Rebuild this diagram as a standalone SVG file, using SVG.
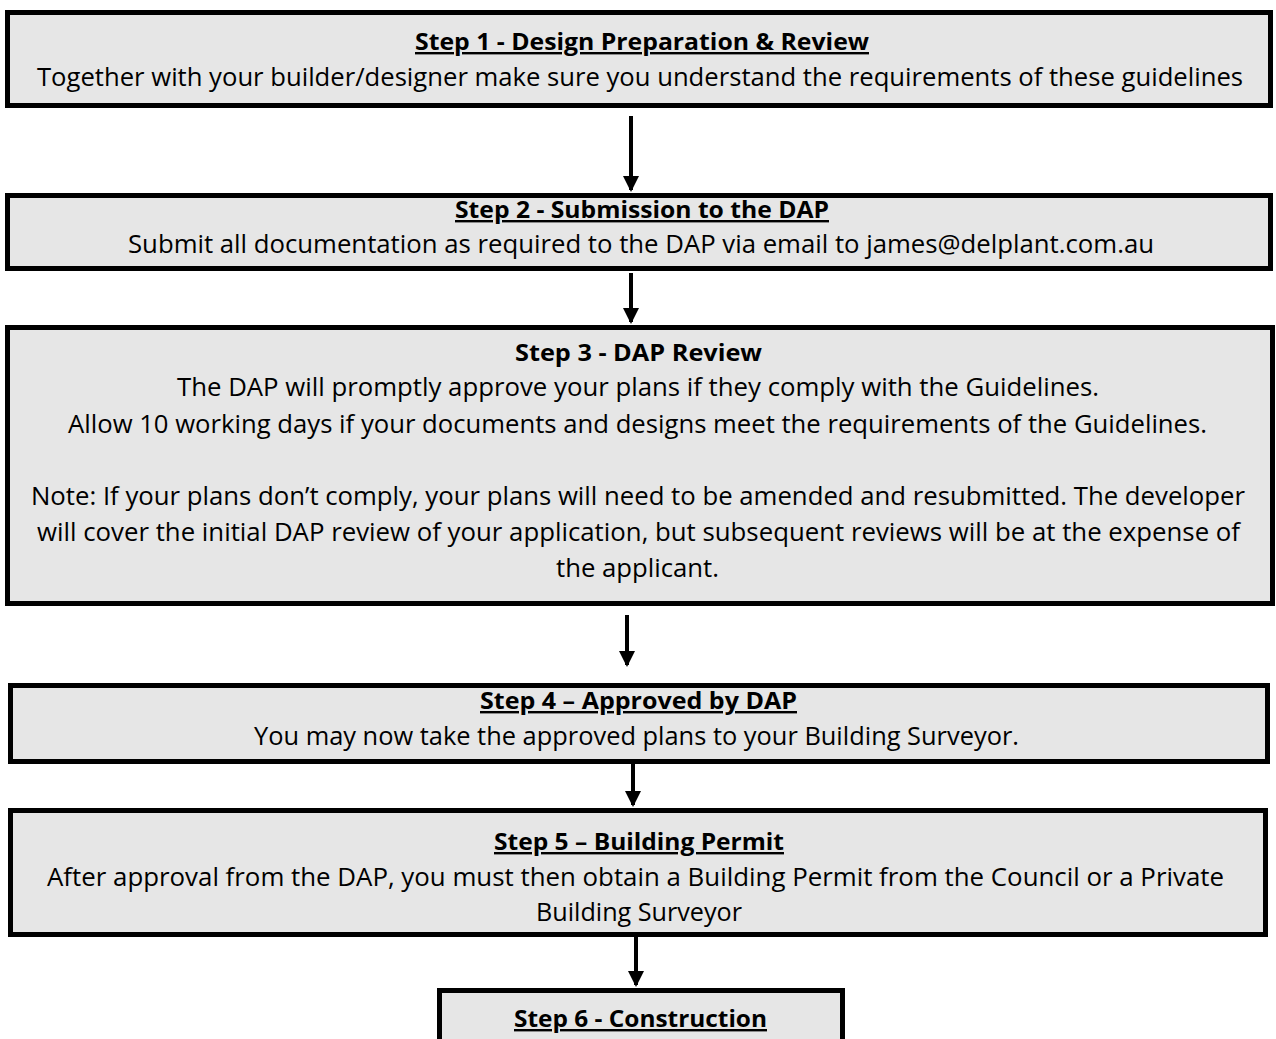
<svg xmlns="http://www.w3.org/2000/svg" width="1276" height="1039" viewBox="0 0 1276 1039">
<style>
.box{fill:#e6e6e6;stroke:#000;stroke-width:5}
.t{font-family:"Open Sans","Liberation Sans",sans-serif;font-size:25px;fill:#000;text-anchor:middle}
.b{font-weight:bold;font-size:24px}
.u{text-decoration:underline}
.arr{stroke:#000;stroke-width:4;fill:none}
</style>
<defs>
<marker id="ah" markerWidth="4" markerHeight="4" refX="3.5" refY="2" orient="auto" markerUnits="strokeWidth" viewBox="0 0 4 4">
<path d="M0,0 L4,2 L0,4 Z" fill="#000"/>
</marker>
</defs>
<rect width="1276" height="1039" fill="#fff"/>
<g id="connectors">
<line class="arr" x1="631" y1="116" x2="631" y2="190" marker-end="url(#ah)"/>
<line class="arr" x1="631" y1="273" x2="631" y2="322" marker-end="url(#ah)"/>
<line class="arr" x1="627" y1="615" x2="627" y2="665" marker-end="url(#ah)"/>
<line class="arr" x1="633" y1="762" x2="633" y2="805" marker-end="url(#ah)"/>
<line class="arr" x1="636" y1="937" x2="636" y2="985" marker-end="url(#ah)"/>
</g>
<g id="step1">
<rect class="box" x="7.5" y="12.5" width="1263" height="93"/>
<text class="t b u" x="642" y="50" textLength="454" lengthAdjust="spacingAndGlyphs">Step 1 - Design Preparation &amp; Review</text>
<text class="t" x="640" y="86" textLength="1206" lengthAdjust="spacingAndGlyphs">Together with your builder/designer make sure you understand the requirements of these guidelines</text>
</g>
<g id="step2">
<rect class="box" x="7.5" y="195.5" width="1263" height="73"/>
<text class="t b u" x="642" y="218" textLength="374" lengthAdjust="spacingAndGlyphs">Step 2 - Submission to the DAP</text>
<text class="t" x="641" y="253" textLength="1026" lengthAdjust="spacingAndGlyphs">Submit all documentation as required to the DAP via email to james@delplant.com.au</text>
</g>
<g id="step3">
<rect class="box" x="7.5" y="327.5" width="1265" height="276"/>
<text class="t b" x="638.5" y="361" textLength="247" lengthAdjust="spacingAndGlyphs">Step 3 - DAP Review</text>
<text class="t" x="638" y="396" textLength="922" lengthAdjust="spacingAndGlyphs">The DAP will promptly approve your plans if they comply with the Guidelines.</text>
<text class="t" x="637.5" y="433" textLength="1139" lengthAdjust="spacingAndGlyphs">Allow 10 working days if your documents and designs meet the requirements of the Guidelines.</text>
<text class="t" x="638" y="505" textLength="1214" lengthAdjust="spacingAndGlyphs">Note: If your plans don’t comply, your plans will need to be amended and resubmitted. The developer</text>
<text class="t" x="638.5" y="541" textLength="1203" lengthAdjust="spacingAndGlyphs">will cover the initial DAP review of your application, but subsequent reviews will be at the expense of</text>
<text class="t" x="637.5" y="577" textLength="163" lengthAdjust="spacingAndGlyphs">the applicant.</text>
</g>
<g id="step4">
<rect class="box" x="10.5" y="685.5" width="1257" height="76"/>
<text class="t b u" x="638.5" y="709" textLength="317" lengthAdjust="spacingAndGlyphs">Step 4 – Approved by DAP</text>
<text class="t" x="636.5" y="745" textLength="765" lengthAdjust="spacingAndGlyphs">You may now take the approved plans to your Building Surveyor.</text>
</g>
<g id="step5">
<rect class="box" x="10.5" y="810.5" width="1255" height="124"/>
<text class="t b u" x="639" y="850" textLength="290" lengthAdjust="spacingAndGlyphs">Step 5 – Building Permit</text>
<text class="t" x="635.5" y="886" textLength="1177" lengthAdjust="spacingAndGlyphs">After approval from the DAP, you must then obtain a Building Permit from the Council or a Private</text>
<text class="t" x="639" y="921" textLength="206" lengthAdjust="spacingAndGlyphs">Building Surveyor</text>
</g>
<g id="step6">
<rect class="box" x="439.5" y="990.5" width="403" height="60"/>
<text class="t b u" x="640.5" y="1027" textLength="253" lengthAdjust="spacingAndGlyphs">Step 6 - Construction</text>
</g>
</svg>
